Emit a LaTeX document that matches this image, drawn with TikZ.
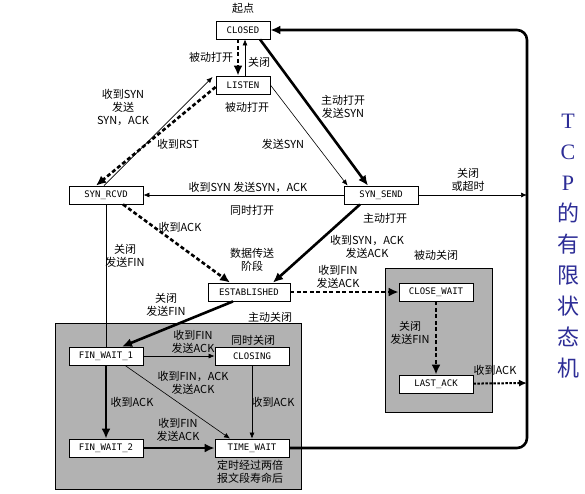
\documentclass[tikz,border=0pt]{standalone}
\usepackage{fontspec}
\usetikzlibrary{arrows.meta}
\newfontfamily\cjk{Noto Sans CJK SC}
\newfontfamily\boxfont{DejaVu Sans Mono}
\newfontfamily\titlefont{Liberation Serif}
\definecolor{panel}{RGB}{178,178,178}
\definecolor{titleblue}{RGB}{45,45,150}
\tikzstyle{state}=[draw, fill=white, line width=0.8pt, minimum height=18pt, minimum width=74pt, inner sep=1pt, font=\boxfont\fontsize{9}{10}\selectfont]
\tikzstyle{lbl}=[align=center, inner sep=0pt, font=\cjk\fontsize{11}{13}\selectfont]
\tikzstyle{arrowthin}=[line width=0.6pt, -{Latex[length=6pt,width=5pt]}]
\tikzstyle{arrowbold}=[line width=2.6pt, -{Latex[length=10pt,width=9pt]}]
\tikzstyle{arrowdash}=[arrowbold, dash pattern=on 4pt off 2.5pt]
\tikzstyle{arrowdot}=[line width=2pt, dash pattern=on 2.5pt off 1.5pt, -{Latex[length=8pt,width=7pt]}]
\tikzstyle{titlestyle}=[align=center, inner sep=0pt, text=titleblue, font=\cjk\fontsize{22}{31}\selectfont]

\begin{document}
\begin{tikzpicture}[x=1pt, y=-1pt]
\useasboundingbox (0,0) rectangle (585,493);
% Panels
    \filldraw[fill=panel, draw=black, line width=1pt] (55,323) rectangle (301,489);
    \filldraw[fill=panel, draw=black, line width=1pt] (385,268) rectangle (492,412);
% States
    \node[state, minimum width=54pt] (CLOSED) at (243,30) {CLOSED};
    \node[state, minimum width=54pt] (LISTEN) at (243,85) {LISTEN};
    \node[state] (SYNRCVD) at (106,195) {SYN\_RCVD};
    \node[state] (SYNSEND) at (381,195) {SYN\_SEND};
    \node[state, minimum width=82pt] (ESTAB) at (249,292) {ESTABLISHED};
    \node[state] (CLOSEWAIT) at (436,292) {CLOSE\_WAIT};
    \node[state] (LASTACK) at (436,384) {LAST\_ACK};
    \node[state] (FINWAIT1) at (106,356) {FIN\_WAIT\_1};
    \node[state] (CLOSING) at (252,356) {CLOSING};
    \node[state] (FINWAIT2) at (106,448) {FIN\_WAIT\_2};
    \node[state] (TIMEWAIT) at (252,448) {TIME\_WAIT};
    \coordinate (TR) at (527,30);
    \coordinate (BR) at (527,448);
    \coordinate (railA) at (527,195);
    \coordinate (railB) at (527,383);
% Transitions
    \draw[arrowdash] ([xshift=-5]CLOSED.south) -- ([xshift=-5]LISTEN.north);
    \draw[arrowthin] ([xshift=2]LISTEN.north) -- ([xshift=2]CLOSED.south);
    \draw[arrowbold] ([xshift=17]CLOSED.south) -- ([xshift=-13]SYNSEND.north);
    \draw[arrowthin] (LISTEN.east) -- ([xshift=4]SYNSEND.north west);
    \draw[arrowthin] ([xshift=-2]SYNRCVD.north) -- ([xshift=-3,yshift=8]LISTEN.west);
    \draw[arrowdash] ([yshift=-2]LISTEN.west) -- ([xshift=-10]SYNRCVD.north);
    \draw[arrowthin] (SYNSEND) -- (SYNRCVD);
    \draw[arrowdash] ([xshift=17]SYNRCVD.south) -- ([xshift=-19]ESTAB.north);
    \draw[arrowbold] ([xshift=-21]SYNSEND.south) -- ([xshift=24]ESTAB.north);
    \draw[arrowdash] (ESTAB) -- (CLOSEWAIT);
    \draw[arrowdash] (CLOSEWAIT) -- (LASTACK);
    \draw[line width=0.6pt] (SYNRCVD) -- (FINWAIT1);
    \draw[arrowbold] ([xshift=-16]ESTAB.south) -- ([xshift=16]FINWAIT1.north);
    \draw[arrowthin] (FINWAIT1) -- (CLOSING);
    \draw[arrowthin] ([xshift=19]FINWAIT1.south) -- ([xshift=-22]TIMEWAIT.north);
    \draw[arrowthin] (CLOSING) -- (TIMEWAIT);
    \draw[arrowbold] (FINWAIT1) -- (FINWAIT2);
    \draw[arrowbold] (FINWAIT2) -- (TIMEWAIT);
    \draw[arrowthin] (SYNSEND) -- (railA);
    \draw[arrowdot] (LASTACK) -- (railB);
    \draw[arrowbold, rounded corners=10pt] (TIMEWAIT.east) -- (BR) -- (TR) -- (CLOSED.east);
% Labels
    \node[lbl] (lStart) at (243,8) {起点};
    \node[lbl] (lPassiveA) at (211,57) {被动打开};
    \node[lbl] (lCloseA) at (259,62) {关闭};
    \node[lbl] (lSynRecv) at (123,107) {收到SYN\\发送\\SYN，ACK};
    \node[lbl] (lPassiveB) at (247,107) {被动打开};
    \node[lbl] (lActiveA) at (343,107) {主动打开\\发送SYN};
    \node[lbl] (lRst) at (178,144) {收到RST};
    \node[lbl] (lSendSyn) at (283,144) {发送SYN};
    \node[lbl] (lSimulSyn) at (248,187) {收到SYN 发送SYN，ACK};
    \node[lbl] (lCloseTimeout) at (468,180) {关闭\\或超时};
    \node[lbl] (lSimulOpen) at (252,210) {同时打开};
    \node[lbl] (lActiveB) at (385,218) {主动打开};
    \node[lbl] (lAckA) at (180,227) {收到ACK};
    \node[lbl] (lSynAck) at (367,247) {收到SYN，ACK\\发送ACK};
    \node[lbl] (lCloseFinA) at (125,256) {关闭\\发送FIN};
    \node[lbl] (lData) at (252,260) {数据传送\\阶段};
    \node[lbl] (lPassiveClose) at (436,255) {被动关闭};
    \node[lbl] (lFinAckA) at (338,277) {收到FIN\\发送ACK};
    \node[lbl] (lCloseFinB) at (166,305) {关闭\\发送FIN};
    \node[lbl] (lActiveClose) at (270,317) {主动关闭};
    \node[lbl] (lCloseFinC) at (410,333) {关闭\\发送FIN};
    \node[lbl] (lFinAckB) at (193,342) {收到FIN\\发送ACK};
    \node[lbl] (lSimulClose) at (253,340) {同时关闭};
    \node[lbl] (lAckB) at (495,370) {收到ACK};
    \node[lbl] (lFinAckC) at (193,383) {收到FIN，ACK\\发送ACK};
    \node[lbl] (lAckC) at (132,402) {收到ACK};
    \node[lbl] (lAckD) at (273,402) {收到ACK};
    \node[lbl] (lFinAckD) at (178,430) {收到FIN\\发送ACK};
    \node[lbl] (lTimer) at (250,472) {定时经过两倍\\报文段寿命后};
% Title
    \node[titlestyle] (title) at (568,246) {{\titlefont T}\\{\titlefont C}\\{\titlefont P}\\的\\有\\限\\状\\态\\机};
\end{tikzpicture}
\end{document}
